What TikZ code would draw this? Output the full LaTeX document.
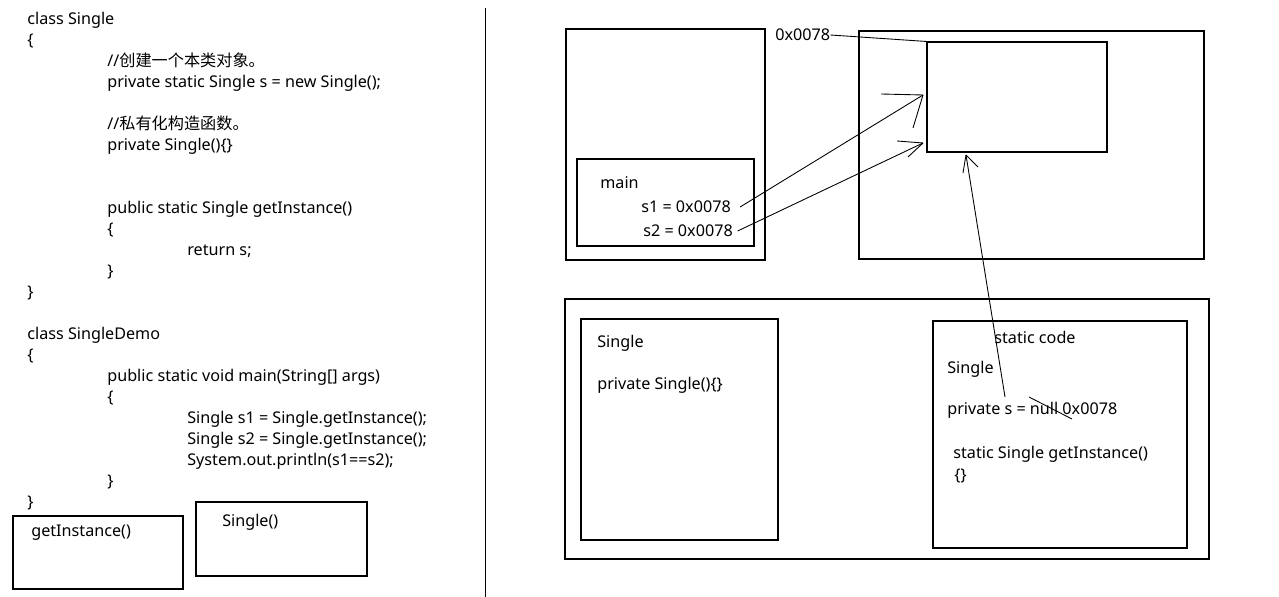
\documentclass[tikz,border=0pt]{standalone}
\usepackage{fontspec}
\setmainfont{Noto Sans}
\newfontfamily\cjk{Noto Sans CJK SC}
\usetikzlibrary{fit}

\begin{document}
\begin{tikzpicture}[
    x=0.02cm, y=-0.02cm,
    code/.style={anchor=west, inner sep=0pt, font=\fontsize{9.2}{11}\selectfont,
                 text height=1.6ex, text depth=0.4ex},
    box/.style={draw, line width=0.6pt, inner sep=0pt},
    link/.style={line width=0.5pt}
  ]
  \useasboundingbox (0,0) rectangle (1279,597);
  % source code on the left
  \node[code] (cls) at (27,19) {class Single};
  \node[code] (clsopen) at (27,40) {\{};
  \node[code] (cmtobj) at (107,61) {//{\cjk 创建一个本类对象。}};
  \node[code] (field) at (107,82) {private static Single s = new Single();};
  \node[code] (cmtctor) at (107,124) {//{\cjk 私有化构造函数。}};
  \node[code] (ctor) at (107,145) {private Single()\{\}};
  \node[code] (getdecl) at (107,208) {public static Single getInstance()};
  \node[code] (getopen) at (107,229) {\{};
  \node[code] (getret) at (187,250) {return s;};
  \node[code] (getclose) at (107,271) {\}};
  \node[code] (clsclose) at (27,292) {\}};
  \node[code] (demo) at (27,334) {class SingleDemo};
  \node[code] (demoopen) at (27,355) {\{};
  \node[code] (maindecl) at (107,376) {public static void main(String[] args)};
  \node[code] (mainopen) at (107,397) {\{};
  \node[code] (calla) at (187,418) {Single s1 = Single.getInstance();};
  \node[code] (callb) at (187,439) {Single s2 = Single.getInstance();};
  \node[code] (print) at (187,460) {System.out.println(s1==s2);};
  \node[code] (mainclose) at (107,481) {\}};
  \node[code] (democlose) at (27,502) {\}};
  \node[box, fit={(13,516) (183,589)}] (getbox) {};
  \node[code] (gettxt) at (31,531) {getInstance()};
  \node[box, fit={(196,502) (367,576)}] (ctorbox) {};
  \node[code] (ctortxt) at (222,521) {Single()};
  \draw[link] (485,8) -- (485,597);
  % stack
  \node[box, fit={(566,29) (765,260)}] (stack) {};
  \node[box, fit={(577,159) (754,246)}] (mainbox) {};
  \node[code] (maintxt) at (600,183) {main};
  \node[code] (s1) at (641,207) {s1 = 0x0078};
  \node[code] (s2) at (643,231) {s2 = 0x0078};
  % heap
  \node[box, fit={(859,31) (1204,259)}] (heap) {};
  \node[box, fit={(927,42) (1107,152)}] (obj) {};
  \node[code] (addr) at (775,35) {0x0078};
  \draw[link] (addr.east) -- (obj.north west);
  \coordinate (tip1) at (923,95);
  \coordinate (tip2) at (923,143);
  \draw[link] ([xshift=0.18cm]s1.east) -- (tip1);
  \draw[link] (tip1) -- ++(-42,-1);
  \draw[link] (tip1) -- ++(-10,33);
  \draw[link] ([xshift=0.09cm]s2.east) -- (tip2);
  \draw[link] (tip2) -- ++(-26,-2);
  \draw[link] (tip2) -- ++(-15,14);
  % method area
  \node[box, fit={(565,299) (1209,559)}] (method) {};
  \node[box, fit={(581,319) (778,540)}] (clsbox) {};
  \node[code] (clsname) at (597,342) {Single};
  \node[code] (clsctor) at (597,384) {private Single()\{\}};
  \node[box, fit={(933,321) (1187,548)}] (static) {};
  \node[code] (stattitle) at (994,338) {static code};
  \node[code] (statname) at (947,368) {Single};
  \node[code] (statfield) at (947,409) {private s = null 0x0078};
  \node[code] (statget) at (953,453) {static Single getInstance()};
  \node[code] (statbody) at (954,475) {\{\}};
  \draw[link] (1029,397) -- (1072,419);
  \coordinate (sref) at (1005,397);
  \coordinate (tip3) at (966,155);
  \draw[link] (sref) -- (tip3);
  \draw[link] (tip3) -- ++(-3,18);
  \draw[link] (tip3) -- ++(12,12);
\end{tikzpicture}
\end{document}
